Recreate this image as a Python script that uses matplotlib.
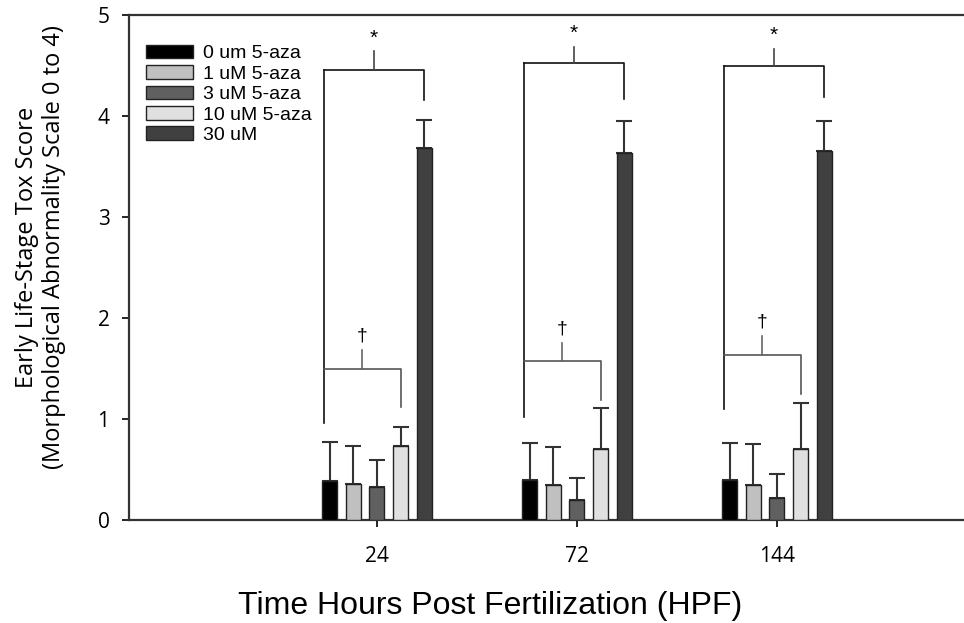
import matplotlib
matplotlib.use("agg")
import matplotlib.pyplot as plt
import numpy as np

# data
timepoints = ["24", "72", "144"]
groups = ["0 um 5-aza", "1 uM 5-aza", "3 uM 5-aza", "10 uM 5-aza", "30 uM"]
colors = ["#000000", "#c0c0c0", "#606060", "#e0e0e0", "#404040"]
means = [
    [0.39, 0.40, 0.40],   # 0 um
    [0.36, 0.35, 0.35],   # 1 uM
    [0.33, 0.20, 0.22],   # 3 uM
    [0.73, 0.70, 0.70],   # 10 uM
    [3.68, 3.63, 3.65],   # 30 uM
]
errs = [
    [0.38, 0.36, 0.36],
    [0.37, 0.37, 0.40],
    [0.26, 0.22, 0.24],
    [0.19, 0.41, 0.46],
    [0.28, 0.32, 0.30],
]
# significance brackets (data units)
star_bar_y = [4.46, 4.52, 4.50]
star_stem_top = [4.64, 4.68, 4.66]
star_right_bottom = [4.16, 4.17, 4.19]
dag_bar_y = [1.50, 1.57, 1.63]
dag_stem_top = [1.68, 1.75, 1.82]
dag_right_bottom = [1.12, 1.19, 1.25]
left_leg_bottom = [0.96, 1.02, 1.10]

fig = plt.figure(figsize=(9.64, 6.23), dpi=100)
ax = fig.add_axes([0.1338, 0.1653, 0.8662, 0.8106])

x = np.arange(1, len(timepoints) + 1)
step = 0.118
width = 0.075
offsets = (np.arange(len(groups)) - 2) * step

for i, g in enumerate(groups):
    ax.bar(x + offsets[i], means[i], width, color=colors[i], edgecolor="#222222",
           linewidth=1.0, label=g, zorder=3)
    ax.errorbar(x + offsets[i], means[i], yerr=[np.zeros(len(x)), errs[i]],
                fmt="none", ecolor="#333333", elinewidth=1.5, capsize=5.5,
                capthick=1.5, zorder=2)

for j in range(len(x)):
    xl = x[j] + offsets[0] - width * 0.4
    x30 = x[j] + offsets[4]
    x10 = x[j] + offsets[3]
    # star bracket (control vs 30 uM)
    ax.plot([xl, xl], [left_leg_bottom[j], star_bar_y[j]], color="#111111", lw=1.2)
    ax.plot([xl, x30, x30], [star_bar_y[j], star_bar_y[j], star_right_bottom[j]],
            color="#111111", lw=1.2)
    xm = (xl + x30) / 2
    ax.plot([xm, xm], [star_bar_y[j], star_stem_top[j]], color="#444444", lw=1.2)
    ax.text(xm, star_stem_top[j] + 0.04, "*", ha="center", va="bottom",
            fontsize=15, fontfamily="Liberation Sans")
    # dagger bracket (control vs 10 uM)
    ax.plot([xl, x10, x10], [dag_bar_y[j], dag_bar_y[j], dag_right_bottom[j]],
            color="#555555", lw=1.2)
    xm2 = (xl + x10) / 2
    ax.plot([xm2, xm2], [dag_bar_y[j], dag_stem_top[j]], color="#666666", lw=1.2)
    ax.text(xm2, dag_stem_top[j] + 0.06, "\u2020", ha="center", va="bottom",
            fontsize=14, fontfamily="Liberation Sans")

ax.set_xlim(-0.24, 3.935)
ax.set_ylim(0, 5)
ax.set_xticks(x)
ax.set_xticklabels(timepoints)
ax.set_yticks([0, 1, 2, 3, 4, 5])
ax.tick_params(axis="both", direction="out", length=5, width=1.2, labelsize=15)
ax.tick_params(axis="x", pad=14)
ax.tick_params(axis="y", pad=9)
for lab in ax.get_xticklabels() + ax.get_yticklabels():
    lab.set_fontfamily("Open Sans")
ax.spines["right"].set_visible(False)
for s in ["left", "bottom", "top"]:
    ax.spines[s].set_linewidth(1.6)
    ax.spines[s].set_color("#333333")

ax.set_xlabel("Time Hours Post Fertilization (HPF)", fontsize=23,
              fontfamily="Liberation Sans")
ax.xaxis.set_label_coords(0.432, -0.141)
ax.set_ylabel("Early Life-Stage Tox Score\n(Morphological Abnormality Scale 0 to 4)",
              fontsize=17, fontfamily="Open Sans", linespacing=1.2)
ax.yaxis.set_label_coords(-0.075, 0.54)

leg = ax.legend(loc="upper left", bbox_to_anchor=(0.0, 0.976), frameon=False,
                prop={"family": "Liberation Sans", "size": 14},
                handlelength=2.37, handleheight=0.72, labelspacing=0.14,
                handletextpad=0.55, borderaxespad=0.5)

fig.savefig("out.png", dpi=100)
